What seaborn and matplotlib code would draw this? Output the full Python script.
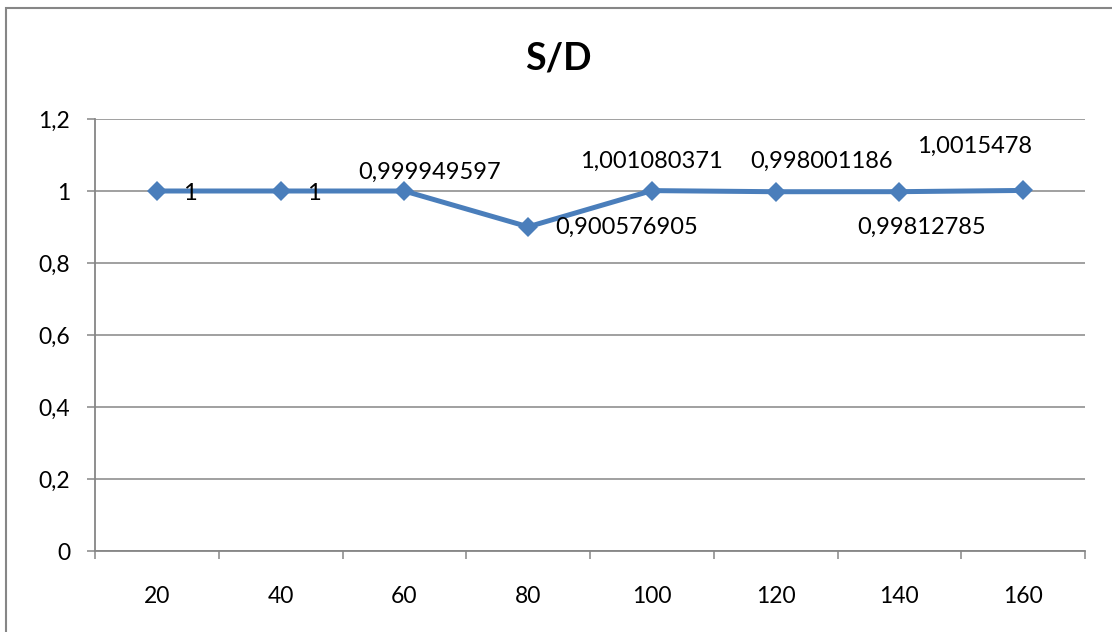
import matplotlib
matplotlib.use("Agg")
import matplotlib.pyplot as plt
from matplotlib.patches import Rectangle
import seaborn as sns
import pandas as pd

# ---- data ----
categories = ["20", "40", "60", "80", "100", "120", "140", "160"]
values = [1, 1, 0.999949597, 0.900576905, 1.001080371, 0.998001186, 0.99812785, 1.0015478]
value_labels = ["1", "1", "0,999949597", "0,900576905", "1,001080371",
                "0,998001186", "0,99812785", "1,0015478"]
y_ticks = [0, 0.2, 0.4, 0.6, 0.8, 1.0, 1.2]
y_tick_labels = ["0", "0,2", "0,4", "0,6", "0,8", "1", "1,2"]
title = "S/D"

# label placement (pixel offsets from each point, horizontal alignment)
label_offsets = [(26, -2), (26, -2), (25, 19), (27, -1), (0, 29), (46, 30), (22, -36), (-49, 44)]
label_ha = ["left", "left", "center", "left", "center", "center", "center", "center"]

sns.set_theme(style="white")
plt.rcParams["font.family"] = ["Lato", "DejaVu Sans"]

W, H = 1112, 632
fig = plt.figure(figsize=(W / 100, H / 100), dpi=100)
fig.patch.set_facecolor("white")

# outer chart frame
fig.patches.append(Rectangle((6 / W, -0.05), 1.2, 1 - 8 / H + 0.05, transform=fig.transFigure,
                             fill=False, edgecolor="#868686", linewidth=1.5))

ax = fig.add_axes([95 / W, 1 - 551 / H, (1085 - 95) / W, (551 - 119) / H])
ax.set_facecolor("white")

df = pd.DataFrame({"x": range(len(categories)), "y": values})
line_color = "#4A7EBB"
sns.lineplot(data=df, x="x", y="y", ax=ax, color=line_color, linewidth=3.6,
             marker="D", markersize=10.5, markeredgewidth=0, markerfacecolor=line_color)

ax.set_xlim(-0.5, len(categories) - 0.5)
ax.set_ylim(0, 1.2)
ax.set_yticks(y_ticks)
ax.set_yticklabels(y_tick_labels)
ax.set_xticks(range(len(categories)))
ax.set_xticklabels(categories)
ax.set_xticks([i - 0.5 for i in range(len(categories) + 1)], minor=True)
ax.set_xlabel("")
ax.set_ylabel("")

ax.yaxis.grid(True, color="#868686", linewidth=1.1)
ax.xaxis.grid(False)
ax.set_axisbelow(True)
for s in ["top", "right"]:
    ax.spines[s].set_visible(False)
for s in ["left", "bottom"]:
    ax.spines[s].set_color("#868686")
    ax.spines[s].set_linewidth(1.3)

ax.tick_params(axis="y", which="major", left=True, length=6, width=1.1, color="#868686",
               pad=12, labelsize=16.5, labelcolor="black")
ax.tick_params(axis="x", which="major", bottom=False, length=0, pad=25,
               labelsize=16.5, labelcolor="black")
ax.tick_params(axis="x", which="minor", bottom=True, length=6, width=1.1, color="#868686")

for i, (v, lab) in enumerate(zip(values, value_labels)):
    ax.annotate(lab, xy=(i, v), xytext=label_offsets[i], textcoords="offset pixels",
                ha=label_ha[i], va="center", fontsize=17, color="black")

fig.text(558 / W, 1 - 58 / H, title, ha="center", va="center", fontsize=27,
         fontweight="bold", color="black")

fig.savefig("out.png", dpi=100, facecolor="white")
